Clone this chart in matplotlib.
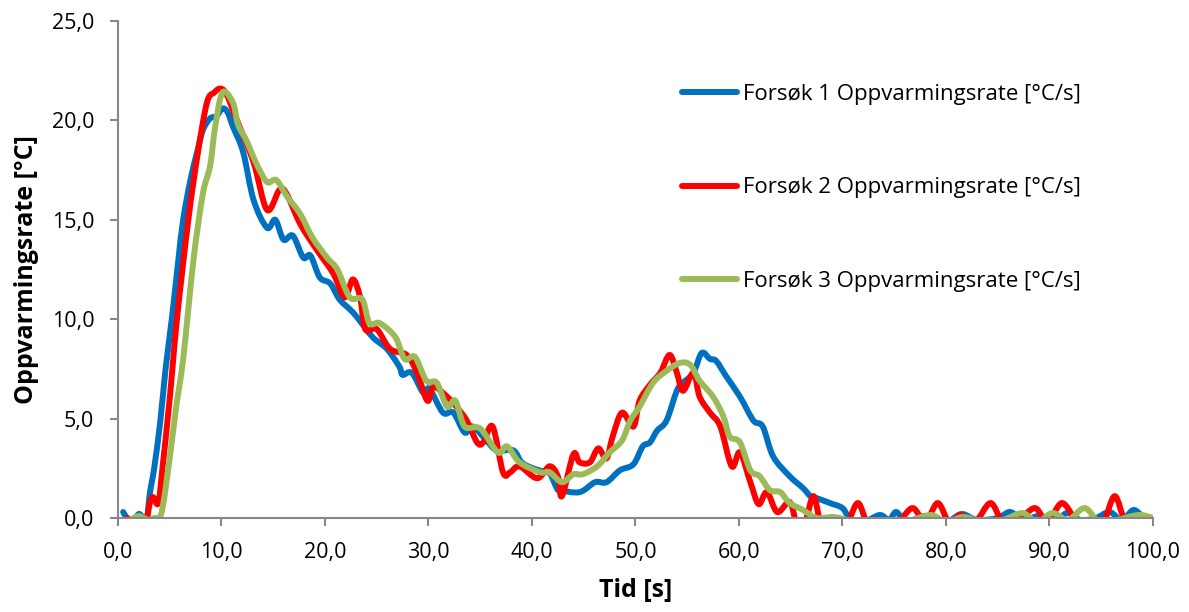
import matplotlib
matplotlib.use('Agg')
import numpy as np
import matplotlib.pyplot as plt
from matplotlib.path import Path
from matplotlib.patches import PathPatch
from matplotlib.lines import Line2D
from matplotlib.ticker import MultipleLocator, FuncFormatter

# Forsøk 1 (blå)
t1 = [0.5, 1.0, 1.5, 2.0, 2.5, 2.8, 3.1, 3.5, 4.1, 4.6, 5.2, 5.8, 6.3, 7.0, 7.6, 8.2, 8.9, 9.5,
      10.1, 10.6, 11.1, 12.1, 13.1, 14.4, 15.2, 16.0, 16.9, 17.9, 18.6, 19.5, 20.5, 21.4, 22.4,
      23.1, 24.6, 26.0, 27.2, 27.5, 28.4, 29.5, 30.1, 31.4, 32.4, 33.5, 34.3, 35.6, 36.6, 38.2,
      39.0, 40.1, 41.4, 41.7, 42.4, 42.7, 44.6, 46.1, 47.2, 48.5, 49.8, 50.7, 51.4, 52.1, 53.0,
      54.0, 54.6, 55.6, 56.4, 57.2, 57.8, 58.8, 60.1, 61.4, 62.3, 63.3, 64.9, 66.2, 66.9, 67.5,
      68.8, 70.0, 70.7, 72.0, 73.6, 74.5, 75.2, 76.2, 78.0, 80.0, 81.5, 83.0, 85.0, 86.2, 87.5,
      89.0, 90.5, 91.7, 93.0, 94.5, 95.8, 97.0, 98.1, 99.0, 100.0]
y1 = [0.3, -0.1, -0.2, 0.2, 0.0, 0.0, 1.3, 2.5, 4.9, 7.5, 10.0, 12.8, 15.0, 17.0, 18.3, 19.5, 20.1,
      20.2, 20.6, 20.4, 19.7, 18.4, 16.0, 14.6, 15.0, 14.0, 14.2, 13.1, 13.2, 12.1, 11.8, 11.0, 10.5,
      10.1, 9.1, 8.5, 7.6, 7.2, 7.3, 6.3, 6.5, 5.3, 5.3, 4.3, 4.6, 3.9, 3.4, 3.4,
      2.8, 2.5, 2.3, 2.3, 1.5, 1.4, 1.3, 1.8, 1.8, 2.4, 2.7, 3.6, 3.8, 4.4, 4.9,
      6.4, 6.8, 7.3, 8.3, 8.0, 7.9, 7.1, 6.1, 4.9, 4.6, 3.1, 2.1, 1.5, 1.1, 1.0,
      0.75, 0.5, 0.0, -0.2, 0.15, -0.1, 0.3, -0.2, 0.1, -0.2, 0.2, -0.1, 0.0, 0.3, -0.1,
      0.1, -0.2, 0.25, -0.1, 0.0, 0.3, -0.1, 0.4, 0.1, 0.0]

# Forsøk 2 (rød)
t2 = [0.9, 1.5, 2.0, 2.5, 2.8, 3.1, 3.4, 3.9, 4.3, 5.0, 5.7, 6.8, 7.7, 8.6, 9.3, 9.9, 10.5, 11.5,
      13.1, 14.4, 15.6, 16.3, 17.6, 19.2, 20.8, 21.9, 22.7, 23.4, 23.9, 25.0, 26.3, 27.9, 28.9,
      29.9, 30.5, 31.8, 32.7, 33.7, 34.7, 35.3, 36.2, 37.2, 37.9, 38.8, 40.5, 41.7, 42.5, 42.9,
      44.0, 44.6, 45.6, 46.4, 47.2, 47.8, 48.7, 49.8, 50.4, 51.4, 52.4, 53.3, 54.0, 54.6, 55.6,
      56.2, 57.2, 58.2, 59.3, 60.1, 61.1, 61.9, 62.7, 63.7, 64.9, 65.6, 66.4, 67.2, 68.0, 69.5,
      70.5, 71.5, 72.5, 74.0, 75.5, 76.8, 78.0, 79.2, 80.3, 81.4, 82.8, 84.3, 85.5, 87.0, 88.6,
      89.8, 91.2, 92.6, 94.0, 95.2, 96.3, 97.3, 98.5, 100.0]
y2 = [0.0, -0.2, -0.3, -0.2, 0.0, 0.8, 1.05, 0.75, 2.5, 6.0, 10.0, 15.0, 18.3, 20.9, 21.4, 21.6, 21.3, 20.0,
      17.9, 15.5, 16.5, 16.3, 14.8, 13.5, 12.3, 11.1, 12.0, 11.1, 9.5, 9.5, 8.5, 8.2, 7.3,
      5.9, 6.6, 6.1, 5.6, 4.9, 3.8, 3.8, 4.6, 2.3, 2.3, 2.6, 2.0, 2.6, 2.1, 1.1,
      3.2, 2.8, 2.8, 3.5, 3.0, 4.1, 5.3, 4.6, 5.9, 6.7, 7.3, 8.2, 7.3, 6.4, 7.3,
      6.1, 5.3, 4.6, 2.6, 3.3, 1.8, 0.7, 1.3, 0.3, 0.8, -0.3, -0.2, 1.1, -0.3, -0.3,
      -0.2, 0.75, -0.3, -0.2, -0.1, 0.5, -0.2, 0.75, -0.2, 0.15, -0.2, 0.75, -0.2, -0.1, 0.5,
      -0.2, 0.75, -0.1, -0.2, -0.2, 1.1, -0.1, 0.0, 0.0]

# Forsøk 3 (grønn)
t3 = [1.5, 2.0, 2.5, 3.0, 3.5, 4.2, 5.0, 5.6, 6.3, 7.3, 8.2, 8.9, 9.4, 10.1, 11.1, 11.6, 12.4, 13.4,
      14.4, 15.3, 16.3, 17.6, 18.8, 20.2, 21.2, 22.4, 23.6, 24.3, 25.3, 26.8, 27.7, 28.7, 29.8,
      30.8, 31.8, 32.6, 33.5, 35.0, 36.7, 37.6, 38.8, 40.8, 41.7, 42.9, 44.0, 44.9, 46.3, 47.5,
      48.7, 49.5, 50.4, 51.7, 53.0, 54.3, 55.3, 56.2, 57.5, 58.5, 59.1, 60.1, 61.1, 62.0, 63.0,
      64.0, 64.9, 66.2, 67.5, 69.1, 70.5, 72.0, 74.0, 76.0, 78.5, 80.0, 81.7, 83.5, 85.5, 87.4,
      88.8, 90.3, 91.8, 93.4, 94.8, 96.5, 98.6, 100.0]
y3 = [0.0, 0.1, 0.0, -0.1, 0.0, 0.25, 3.0, 5.5, 8.0, 13.0, 16.3, 17.7, 19.7, 21.4, 20.9, 19.8, 19.0, 17.8,
      16.9, 17.0, 16.2, 15.3, 14.1, 13.1, 12.5, 11.1, 11.0, 9.8, 9.8, 9.1, 8.0, 8.1, 6.9,
      6.8, 5.6, 5.9, 4.6, 4.5, 3.3, 3.6, 2.8, 2.3, 2.3, 1.8, 2.2, 2.2, 2.6, 3.3,
      3.9, 4.9, 5.6, 6.8, 7.4, 7.8, 7.7, 6.9, 6.1, 5.1, 4.1, 3.8, 2.4, 2.1, 1.4,
      1.3, 0.75, 0.4, 0.0, 0.05, -0.1, -0.2, -0.1, -0.2, 0.15, -0.2, 0.05, -0.2, -0.1, 0.25,
      -0.2, 0.25, -0.1, 0.5, -0.2, -0.1, 0.15, 0.0]

labels = ['Forsøk 1 Oppvarmingsrate [°C/s]',
          'Forsøk 2 Oppvarmingsrate [°C/s]',
          'Forsøk 3 Oppvarmingsrate [°C/s]']
colors = ['#0070C0', '#FF0000', '#9BBB59']


def smooth_path(x, y):
    """Excel-lignende glattet linje (Catmull-Rom som Bezier-kurver)"""
    p = np.column_stack([x, y]).astype(float)
    verts = [p[0]]
    codes = [Path.MOVETO]
    n = len(p)
    for i in range(n - 1):
        p0 = p[i - 1] if i > 0 else p[i]
        p3 = p[i + 2] if i + 2 < n else p[i + 1]
        c1 = p[i] + (p[i + 1] - p0) / 6.0
        c2 = p[i + 1] - (p3 - p[i]) / 6.0
        verts += [c1, c2, p[i + 1]]
        codes += [Path.CURVE4] * 3
    return Path(verts, codes)


plt.rcParams['font.family'] = ['Open Sans', 'DejaVu Sans']

fig = plt.figure(figsize=(11.89, 6.12), dpi=100)
ax = fig.add_axes([0.0992, 0.1536, 0.8705, 0.8121])

LW = 4.3
handles = []
for t, y, c, lab in zip([t1, t2, t3], [y1, y2, y3], colors, labels):
    ax.add_patch(PathPatch(smooth_path(t, y), fill=False, edgecolor=c, lw=LW,
                           joinstyle='round', capstyle='round'))
    handles.append(Line2D([], [], color=c, lw=LW, solid_capstyle='round', label=lab))

ax.set_xlim(0, 100)
ax.set_ylim(0, 25)
ax.xaxis.set_major_locator(MultipleLocator(10))
ax.yaxis.set_major_locator(MultipleLocator(5))
fmt = FuncFormatter(lambda v, p: f'{v:.1f}'.replace('.', ','))
ax.xaxis.set_major_formatter(fmt)
ax.yaxis.set_major_formatter(fmt)

for s in ['top', 'right']:
    ax.spines[s].set_visible(False)
for s in ['left', 'bottom']:
    ax.spines[s].set_color('#888888')
    ax.spines[s].set_linewidth(1.5)
ax.tick_params(direction='out', length=6, width=1.5, color='#888888', labelsize=15.5)
ax.tick_params(axis='y', pad=11)
ax.tick_params(axis='x', pad=11)

ax.set_xlabel('Tid [s]', fontsize=18, fontweight='bold', labelpad=11)
ax.set_ylabel('Oppvarmingsrate [°C]', fontsize=18, fontweight='bold', labelpad=9)

ax.legend(handles=handles, loc='center left', bbox_to_anchor=(0.536, 0.664), frameon=False,
          fontsize=16, labelspacing=3.25, handlelength=2.5, handletextpad=0.25, borderaxespad=0)

fig.savefig('out.png', dpi=100)
